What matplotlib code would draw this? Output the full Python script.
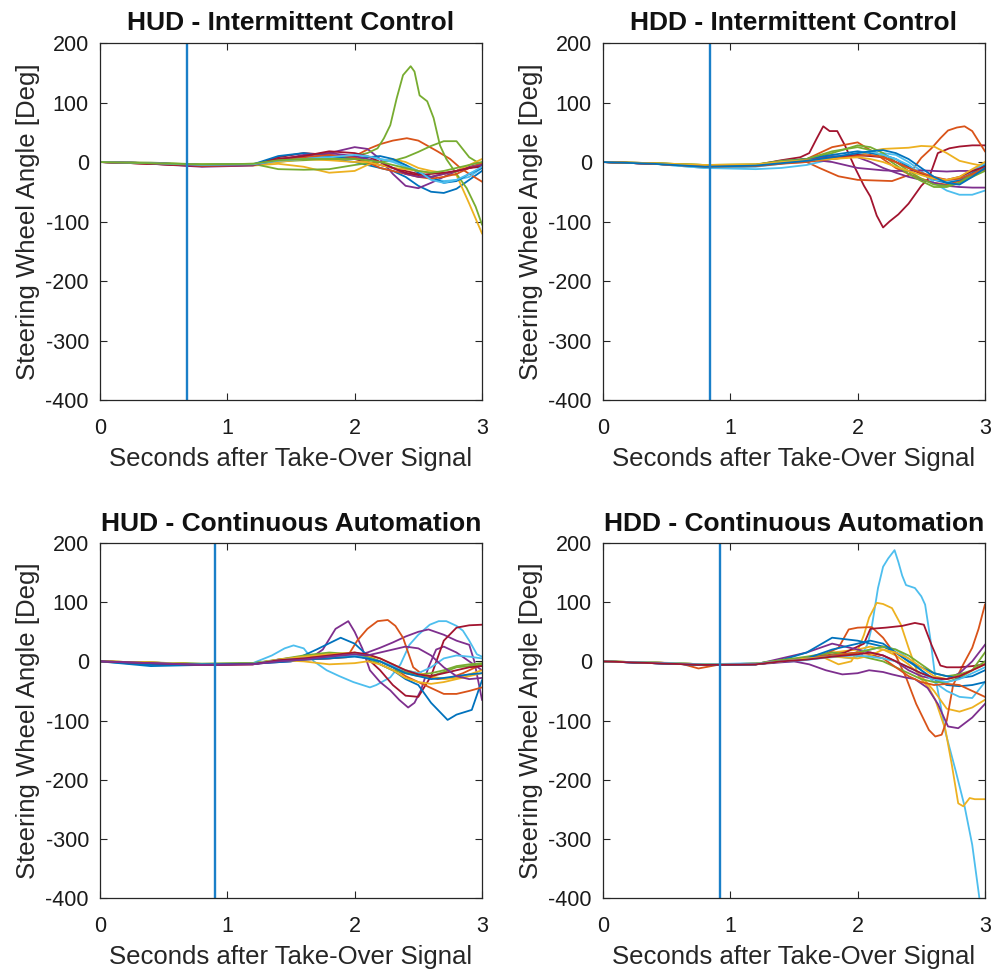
import matplotlib
matplotlib.use('Agg')
import matplotlib.pyplot as plt

plt.rcParams['font.family'] = ['Liberation Sans', 'DejaVu Sans']
plt.rcParams['axes.unicode_minus'] = False

# MATLAB default colour order
COLORS = ['#0072BD', '#D95319', '#EDB120', '#7E2F8E', '#77AC30', '#4DBEEE', '#A2142F']

T_GRID = [0, 0.4, 0.8, 1.2, 1.4, 1.6, 1.8, 2.0, 2.1, 2.2, 2.3, 2.4, 2.5, 2.6, 2.7, 2.8, 2.9, 3.0]

TITLES = ['HUD - Intermittent Control', 'HDD - Intermittent Control',
          'HUD - Continuous Automation', 'HDD - Continuous Automation']
TAKEOVER = [0.68, 0.84, 0.90, 0.92]
X_TICKS = [0, 1, 2, 3]
Y_TICKS = [-400, -300, -200, -100, 0, 100, 200]

# ---------------- HUD - Intermittent Control ----------------
hud_ic_lines = [
    (T_GRID, [0, -2, -6, -5, 5, 8, 5, 0, -5, -10, -15, -25, -40, -50, -52, -45, -30, -15]),
    ([0, 0.4, 0.8, 1.2, 1.5, 1.8, 2.0, 2.12, 2.2, 2.3, 2.41, 2.5, 2.65, 2.75, 2.83, 2.9, 3.0],
     [0, -2, -6, -4, 5, 5, 10, 23, 30, 36, 40, 36, 18, 5, -10, -20, -33]),
    (T_GRID, [0, -3, -7, -6, -3, -8, -18, -15, -5, 0, 5, 0, -10, -15, -18, -22, -70, -120]),
    (T_GRID, [0, -3, -8, -6, 5, 10, 15, 25, 22, 5, -20, -40, -44, -35, -25, -15, -8, -3]),
    ([0, 0.4, 0.8, 1.2, 1.5, 1.8, 2.0, 2.1, 2.18, 2.23, 2.28, 2.33, 2.38, 2.44, 2.47, 2.51,
      2.57, 2.62, 2.67, 2.72, 2.8, 2.88, 2.95, 3.0],
     [0, -1, -4, -3, 2, 5, 10, 15, 23, 40, 62, 107, 146, 161, 152, 112,
      102, 74, 28, 5, -20, -44, -75, -105]),
    (T_GRID, [0, -2, -4, -3, -12, -13, -12, -5, -2, 0, 2, 8, 17, 27, 35, 35, 8, -5]),
    (T_GRID, [0, -2, -5, -4, 3, 8, 10, 10, 8, 5, 2, -5, -15, -28, -32, -30, -25, -10]),
    (T_GRID, [0, -3, -7, -5, 8, 15, 12, 5, 0, -5, -10, -15, -20, -25, -20, -15, -10, -5]),
    (T_GRID, [0, -2, -5, -4, 10, 15, 10, 5, 8, 10, 5, -5, -18, -25, -35, -32, -20, -10]),
    (T_GRID, [0, -2, -5, -5, 2, 8, 12, 8, 0, -10, -15, -20, -25, -28, -25, -20, -10, -2]),
    (T_GRID, [0, -2, -6, -5, 0, 5, 3, 0, 0, -5, -10, -12, -15, -18, -20, -15, -5, 5]),
    (T_GRID, [0, -2, -5, -5, 3, 12, 15, 10, 5, 0, -10, -20, -25, -25, -20, -15, -10, -5]),
    (T_GRID, [0, -3, -6, -5, 5, 10, 18, 15, 10, 0, -10, -18, -22, -20, -18, -15, -10, -8]),
    (T_GRID, [0, -2, -5, -4, 2, 5, 8, 12, 10, 5, 0, -8, -15, -30, -35, -30, -20, -8]),
    (T_GRID, [0, -2, -4, -3, 3, 5, 5, 5, 3, 0, -5, -10, -15, -18, -15, -10, -5, 0]),
]
hud_ic_colors = [0, 1, 2, 3, 4, 4, 5, 6, 0, 1, 2, 3, 6, 5, 4]

# ---------------- HDD - Intermittent Control ----------------
hdd_ic_lines = [
    ([0, 0.4, 0.8, 1.2, 1.4, 1.55, 1.62, 1.68, 1.73, 1.78, 1.84, 1.9, 1.98, 2.05, 2.1, 2.15,
      2.2, 2.25, 2.32, 2.4, 2.45, 2.5, 2.56, 2.63, 2.72, 2.8, 2.9, 3.0],
     [0, -3, -8, -5, 3, 8, 15, 40, 60, 52, 52, 28, -10, -40, -58, -90,
      -110, -100, -88, -70, -55, -40, -27, 15, 23, 26, 28, 28]),
    ([0, 0.4, 0.8, 1.2, 1.4, 1.6, 1.7, 1.85, 2.0, 2.27, 2.4, 2.5, 2.58, 2.65, 2.71, 2.78,
      2.84, 2.9, 2.95, 3.0],
     [0, -3, -8, -6, -2, 0, -10, -24, -30, -32, -22, 7, 23, 40, 53, 58, 60, 52, 35, 18]),
    (T_GRID, [0, -3, -7, -5, 0, 5, 25, 33, 20, 5, -10, -20, -28, -35, -38, -32, -22, -12]),
    (T_GRID, [0, -2, -5, -4, 0, 3, 5, 10, 18, 22, 23, 24, 27, 26, 15, 2, -3, -7]),
    (T_GRID, [0, -3, -10, -12, -10, -5, 5, 12, 10, 15, 12, 0, -15, -35, -48, -55, -55, -48]),
    (T_GRID, [0, -3, -7, -6, 0, 5, 10, 8, 0, -10, -18, -25, -30, -35, -40, -42, -43, -43]),
    (T_GRID, [0, -2, -6, -5, 2, 5, 0, -10, -12, -14, -15, -15, -14, -15, -16, -15, -15, -13]),
    (T_GRID, [0, -2, -5, -4, 2, 5, 15, 28, 25, 15, 0, -15, -28, -38, -40, -35, -20, -10]),
    (T_GRID, [0, -3, -7, -6, 0, 5, 12, 18, 15, 12, 5, -8, -20, -30, -35, -30, -18, -5]),
    (T_GRID, [0, -2, -5, -5, 0, 5, 18, 25, 20, 10, -5, -20, -32, -42, -42, -35, -25, -15]),
    (T_GRID, [0, -3, -10, -8, -3, 3, 8, 15, 18, 12, 5, -5, -20, -30, -32, -28, -15, -2]),
    (T_GRID, [0, -3, -7, -6, -2, 3, 8, 12, 10, 8, 0, -10, -20, -28, -30, -25, -15, -8]),
    (T_GRID, [0, -3, -8, -7, -3, 0, 5, 10, 12, 8, 0, -10, -18, -25, -30, -28, -20, -10]),
    (T_GRID, [0, -2, -5, -4, 0, 3, 5, 8, 5, 0, -8, -15, -22, -28, -30, -25, -12, 0]),
    (T_GRID, [0, -3, -8, -6, -2, 2, 8, 15, 18, 20, 15, 5, -10, -25, -35, -38, -25, -10]),
]
hdd_ic_colors = [6, 1, 1, 2, 5, 3, 3, 4, 0, 4, 5, 6, 1, 2, 0]

# ---------------- HUD - Continuous Automation ----------------
hud_ca_lines = [
    ([0, 0.4, 0.8, 1.2, 1.35, 1.45, 1.52, 1.6, 1.68, 1.78, 1.88, 1.99, 2.12, 2.17, 2.28, 2.36,
      2.43, 2.5, 2.59, 2.66, 2.72, 2.8, 2.85, 2.9, 2.96, 3.0],
     [0, -3, -5, -3, 10, 22, 27, 22, 0, -15, -25, -35, -44, -40, -27, -5,
      28, 45, 62, 68, 68, 60, 52, 35, 12, 8]),
    ([0, 0.4, 0.8, 1.2, 1.5, 1.65, 1.75, 1.85, 1.95, 2.0, 2.06, 2.12, 2.2, 2.28, 2.35, 2.42,
      2.47, 2.52, 2.58, 2.64, 2.7, 2.8, 2.9, 3.0],
     [0, -3, -6, -4, 0, 5, 20, 55, 68, 50, 22, -15, -35, -49, -65, -78,
      -70, -49, -10, 20, 25, 15, 0, -15]),
    ([0, 0.4, 0.8, 1.2, 1.5, 1.8, 2.0, 2.1, 2.2, 2.3, 2.4, 2.5, 2.58, 2.7, 2.8, 2.9, 2.94, 3.0],
     [0, -3, -5, -4, 2, 5, 10, 15, 23, 32, 42, 50, 54, 45, 35, 28, 0, -65]),
    ([0, 0.4, 0.8, 1.2, 1.5, 1.8, 1.94, 2.02, 2.1, 2.18, 2.26, 2.32, 2.38, 2.46, 2.55, 2.65,
      2.75, 2.85, 2.95, 3.0],
     [0, -2, -5, -4, 2, 5, 7, 35, 55, 68, 70, 60, 40, -10, -25, -30, -28, -20, -10, -5]),
    (T_GRID, [0, -3, -6, -5, 3, 8, 12, 10, 5, -15, -40, -58, -60, -25, 35, 57, 61, 62]),
    ([0, 0.4, 0.8, 1.2, 1.5, 1.7, 1.89, 2.0, 2.1, 2.2, 2.3, 2.4, 2.5, 2.6, 2.73, 2.8, 2.92, 3.0],
     [0, -8, -6, -4, 0, 20, 40, 30, 10, -5, -15, -30, -40, -70, -99, -90, -82, -32]),
    (T_GRID, [0, -2, -5, -4, 2, 5, 10, 12, 8, 0, -10, -25, -35, -45, -55, -55, -50, -44]),
    (T_GRID, [0, -2, -4, -3, 3, 10, 15, 12, 5, -5, -15, -20, -25, -25, -18, -10, -8, -5]),
    (T_GRID, [0, -2, -4, -3, 2, 5, 8, 10, 8, 0, -10, -18, -22, -20, -15, -8, -5, -3]),
    (T_GRID, [0, -2, -5, -4, 2, 0, -5, -3, 0, -5, -15, -28, -35, -38, -35, -30, -25, -20]),
    (T_GRID, [0, -2, -5, -4, 3, 8, 12, 15, 10, 5, -5, -15, -20, -25, -30, -28, -22, -15]),
    (T_GRID, [0, -3, -5, -4, 2, 5, 8, 10, 5, 0, -8, -15, -20, -10, 5, 10, 8, 5]),
    (T_GRID, [0, -6, -5, -4, 0, 3, 5, 8, 5, 0, -10, -20, -25, -30, -28, -25, -22, -20]),
    (T_GRID, [0, -3, -6, -5, 2, 5, 10, 15, 12, 5, -5, -15, -22, -25, -20, -15, -10, -8]),
    (T_GRID, [0, -3, -6, -5, 0, 3, 8, 12, 10, 15, 20, 25, 22, 10, -10, -25, -30, -28]),
]
hud_ca_colors = [5, 3, 3, 1, 6, 0, 1, 4, 4, 2, 2, 5, 0, 6, 3]

# ---------------- HDD - Continuous Automation ----------------
hdd_ca_lines = [
    ([0, 0.4, 0.8, 1.2, 1.5, 1.7, 1.85, 1.95, 2.03, 2.08, 2.11, 2.16, 2.2, 2.24, 2.29, 2.32,
      2.35, 2.38, 2.45, 2.5, 2.53, 2.57, 2.61, 2.65, 2.69, 2.77, 2.84, 2.9, 2.95, 2.98],
     [0, -3, -5, -3, 0, 5, 8, 5, 10, 30, 57, 124, 160, 174, 188, 168,
      145, 129, 124, 110, 96, 40, -27, -72, -120, -185, -245, -310, -390, -440]),
    ([0, 0.4, 0.8, 1.2, 1.5, 1.7, 1.85, 1.95, 2.0, 2.05, 2.09, 2.15, 2.2, 2.27, 2.34, 2.4,
      2.48, 2.56, 2.61, 2.69, 2.74, 2.79, 2.83, 2.88, 2.92, 3.0],
     [0, -2, -5, -4, 2, 10, -5, 0, 18, 45, 74, 99, 97, 90, 62, 23,
      -25, -45, -65, -116, -175, -240, -245, -231, -233, -233]),
    (T_GRID, [0, -2, -5, -4, 2, 5, 15, 20, 25, 20, 10, -5, -25, -50, -80, -85, -78, -65]),
    ([0, 0.4, 0.6, 0.75, 0.9, 1.2, 1.5, 1.7, 1.85, 1.93, 2.0, 2.11, 2.2, 2.3, 2.38, 2.46,
      2.56, 2.61, 2.66, 2.7, 2.75, 2.83, 2.9, 2.95, 3.0],
     [0, -2, -3, -12, -6, -4, 2, 8, 23, 54, 57, 58, 40, 10, -27, -72,
      -116, -127, -124, -100, -40, -5, 23, 55, 96]),
    ([0, 0.4, 0.8, 1.2, 1.5, 1.7, 1.9, 2.05, 2.1, 2.22, 2.35, 2.45, 2.52, 2.58, 2.65, 2.7,
      2.8, 2.9, 3.0],
     [0, -3, -6, -5, 2, 8, 15, 30, 55, 57, 60, 65, 62, 28, -7, -10, -10, -8, -5]),
    ([0, 0.4, 0.8, 1.2, 1.5, 1.62, 1.75, 1.88, 2.0, 2.09, 2.2, 2.27, 2.37, 2.45, 2.55, 2.63,
      2.71, 2.79, 2.9, 3.0],
     [0, -3, -6, -5, 0, -5, -15, -22, -20, -15, -18, -22, -27, -30, -45, -72,
      -110, -113, -95, -72]),
    (T_GRID, [0, -3, -6, -5, 5, 15, 30, 20, 15, 10, 0, -15, -25, -30, -30, -20, 0, 28]),
    (T_GRID, [0, -3, -5, -4, 2, 5, 10, 15, 20, 25, 20, 5, -15, -35, -50, -60, -62, -35]),
    (T_GRID, [0, -3, -6, -5, 2, 15, 40, 35, 30, 25, 15, 0, -15, -30, -40, -42, -40, -35]),
    (T_GRID, [0, -2, -5, -4, 2, 5, 10, 15, 20, 25, 20, 10, -5, -20, -25, -22, -15, 0]),
    (T_GRID, [0, -2, -5, -4, 2, 8, 15, 10, 5, 0, -10, -20, -30, -35, -35, -28, -15, 15]),
    (T_GRID, [0, -3, -6, -5, 0, 5, 10, 15, 12, 5, -10, -25, -35, -40, -38, -40, -50, -60]),
    (T_GRID, [0, -3, -6, -5, 0, 5, 20, 30, 35, 30, 15, 0, -10, -20, -25, -28, -25, -15]),
    (T_GRID, [0, -2, -5, -4, 0, 5, 8, 5, 10, 20, 15, 5, -10, -25, -30, -25, -15, -5]),
    (T_GRID, [0, -2, -5, -4, 0, 3, 8, 10, 8, 5, 0, -10, -20, -30, -35, -30, -20, -10]),
    (T_GRID, [0, -3, -6, -5, 0, 3, 8, 12, 15, 10, 0, -10, -20, -28, -30, -25, -15, -5]),
]
hdd_ca_colors = [5, 2, 2, 1, 6, 3, 3, 5, 0, 4, 4, 1, 0, 2, 5, 6]

PANELS = [
    (hud_ic_lines, hud_ic_colors),
    (hdd_ic_lines, hdd_ic_colors),
    (hud_ca_lines, hud_ca_colors),
    (hdd_ca_lines, hdd_ca_colors),
]

POSITIONS = [
    (0.1005, 0.5897, 0.3839, 0.3662),
    (0.6060, 0.5897, 0.3839, 0.3662),
    (0.1005, 0.0790, 0.3839, 0.3640),
    (0.6060, 0.0790, 0.3839, 0.3640),
]

AX_COLOR = '#262626'

fig = plt.figure(figsize=(9.95, 9.75), dpi=100)

for i, ((lines, cidx), pos) in enumerate(zip(PANELS, POSITIONS)):
    ax = fig.add_axes(pos)
    for (t, v), c in zip(lines, cidx):
        n = min(len(t), len(v))
        ax.plot(t[:n], v[:n], color=COLORS[c], lw=1.3)
    ax.axvline(TAKEOVER[i], color='#1a7fc8', lw=1.7)
    ax.set_xlim(0, 3)
    ax.set_ylim(-400, 200)
    ax.set_xticks(X_TICKS)
    ax.set_yticks(Y_TICKS)
    ax.tick_params(direction='in', top=True, right=True, length=5, width=0.8,
                   labelsize=15.5, colors=AX_COLOR, labelcolor='#1a1a1a')
    ax.tick_params(axis='x', pad=13)
    ax.tick_params(axis='y', pad=8)
    for s in ax.spines.values():
        s.set_color(AX_COLOR)
        s.set_linewidth(0.9)
    ax.set_title(TITLES[i], fontsize=19, fontweight='bold', pad=9, color='#111111')
    ax.set_xlabel('Seconds after Take-Over Signal', fontsize=18.5, labelpad=6, color='#262626')
    ax.set_ylabel('Steering Wheel Angle [Deg]', fontsize=18.5, labelpad=4, color='#262626')

fig.savefig('out.png', dpi=100)
